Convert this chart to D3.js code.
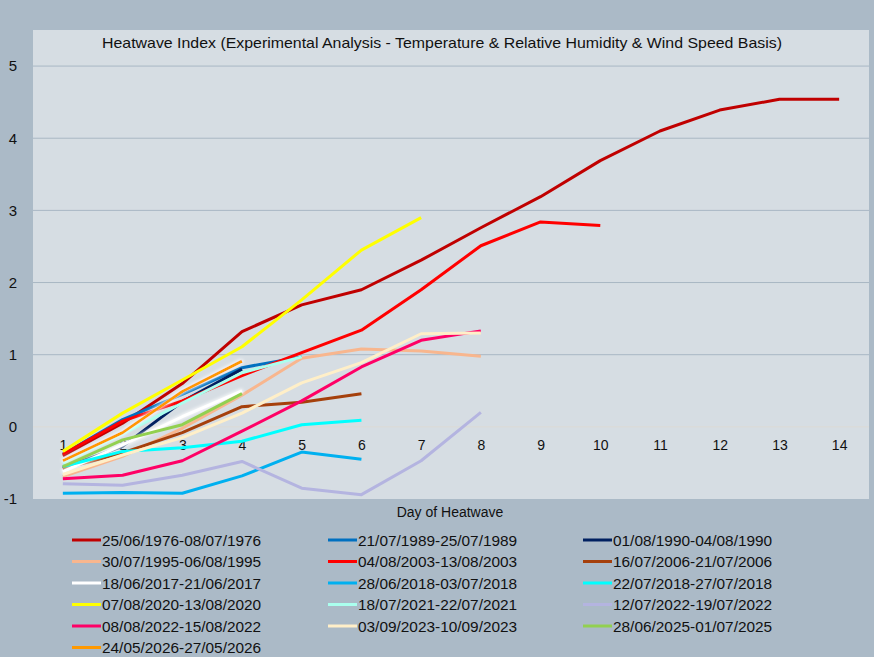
<!DOCTYPE html>
<html>
<head>
<meta charset="utf-8">
<script src="https://cdn.jsdelivr.net/npm/d3@7"></script>
<style>
  html, body { margin: 0; padding: 0; background: #abbac7; }
  svg { display: block; font-family: "Liberation Sans", Arial, sans-serif; }
</style>
</head>
<body>
<svg id="chart" width="874" height="657"></svg>
<script>
// data
const days = [1, 2, 3, 4, 5, 6, 7, 8, 9, 10, 11, 12, 13, 14];
const seriesNames = [
  '25/06/1976-08/07/1976', '21/07/1989-25/07/1989', '01/08/1990-04/08/1990',
  '30/07/1995-06/08/1995', '04/08/2003-13/08/2003', '16/07/2006-21/07/2006',
  '18/06/2017-21/06/2017', '28/06/2018-03/07/2018', '22/07/2018-27/07/2018',
  '07/08/2020-13/08/2020', '18/07/2021-22/07/2021', '12/07/2022-19/07/2022',
  '08/08/2022-15/08/2022', '03/09/2023-10/09/2023', '28/06/2025-01/07/2025',
  '24/05/2026-27/05/2026'
];
const seriesColors = [
  '#c00000', '#0070c0', '#002060',
  '#f8b68e', '#ff0000', '#a5400c',
  '#ffffff', '#00b0f0', '#00ffff',
  '#ffff00', '#aaffee', '#b4b4e0',
  '#ff0066', '#ffefc8', '#92d050',
  '#ff9900'
];
const s1976 = [-0.40, 0.05, 0.60, 1.32, 1.69, 1.90, 2.31, 2.76, 3.19, 3.69, 4.10, 4.39, 4.54, 4.54];
const s1989 = [-0.38, 0.10, 0.45, 0.82, 0.97];
const s1990 = [-0.57, -0.27, 0.35, 0.80];
const s1995 = [-0.69, -0.41, -0.02, 0.44, 0.95, 1.08, 1.05, 0.98];
const s2003 = [-0.38, 0.08, 0.36, 0.71, 1.03, 1.34, 1.90, 2.51, 2.84, 2.79];
const s2006 = [-0.58, -0.36, -0.08, 0.28, 0.34, 0.46];
const s2017 = [-0.62, -0.25, 0.14, 0.50];
const s2018a = [-0.92, -0.91, -0.92, -0.68, -0.35, -0.45];
const s2018b = [-0.55, -0.34, -0.29, -0.20, 0.03, 0.09];
const s2020 = [-0.34, 0.19, 0.65, 1.11, 1.76, 2.45, 2.90];
const s2021 = [-0.50, -0.10, 0.33, 0.75, 0.97];
const s2022a = [-0.79, -0.81, -0.67, -0.48, -0.85, -0.94, -0.47, 0.20];
const s2022b = [-0.72, -0.67, -0.47, -0.06, 0.36, 0.83, 1.20, 1.33];
const s2023 = [-0.66, -0.39, -0.15, 0.19, 0.61, 0.89, 1.29, 1.30];
const s2025 = [-0.55, -0.18, 0.03, 0.46];
const s2026 = [-0.47, -0.08, 0.49, 0.91];
const seriesValues = [s1976, s1989, s1990, s1995, s2003, s2006, s2017, s2018a,
  s2018b, s2020, s2021, s2022a, s2022b, s2023, s2025, s2026];
const yTicks = [-1, 0, 1, 2, 3, 4, 5];
const gridValues = [0, 1, 2, 3, 4, 5];
const glowSeries = ['18/06/2017-21/06/2017', '24/05/2026-27/05/2026'];

const series = seriesNames.map((name, i) => ({
  name: name,
  color: seriesColors[i],
  points: seriesValues[i].map((v, j) => ({ day: days[j], v: v }))
}));

const svg = d3.select('#chart');

// PLOT AREA
const plot = { left: 33, right: 869, top: 30, bottom: 499 };
const x = d3.scaleLinear().domain([0.5, 14.5]).range([plot.left, plot.right]);
const y = d3.scaleLinear().domain([-1, 5.5]).range([plot.bottom, plot.top]);

svg.append('rect')
  .attr('x', plot.left).attr('y', plot.top)
  .attr('width', plot.right - plot.left).attr('height', plot.bottom - plot.top)
  .attr('fill', '#d6dde3');

// soft white halo on the white and orange lines
const defs = svg.append('defs');
const glow = defs.append('filter').attr('id', 'glow')
  .attr('x', '-20%').attr('y', '-20%').attr('width', '140%').attr('height', '140%');
glow.append('feMorphology').attr('in', 'SourceAlpha').attr('operator', 'dilate').attr('radius', 1).attr('result', 'd');
glow.append('feGaussianBlur').attr('in', 'd').attr('stdDeviation', 1.5).attr('result', 'b');
glow.append('feFlood').attr('flood-color', '#ffffff').attr('flood-opacity', 0.7);
glow.append('feComposite').attr('in2', 'b').attr('operator', 'in').attr('result', 'g');
const merge = glow.append('feMerge');
merge.append('feMergeNode').attr('in', 'g');
merge.append('feMergeNode').attr('in', 'SourceGraphic');

// GRIDLINES
svg.append('g').selectAll('line').data(gridValues).join('line')
  .attr('x1', plot.left).attr('x2', plot.right)
  .attr('y1', d => y(d)).attr('y2', d => y(d))
  .attr('stroke', d => d === 0 ? '#dcdad6' : '#a9b7c4')
  .attr('stroke-width', 1);

// TITLE
svg.append('text')
  .attr('x', 442).attr('y', 48)
  .attr('text-anchor', 'middle')
  .attr('font-size', 15)
  .attr('fill', '#111')
  .attr('textLength', 680).attr('lengthAdjust', 'spacingAndGlyphs')
  .text('Heatwave Index (Experimental Analysis - Temperature & Relative Humidity & Wind Speed Basis)');

// AXES
const yAxis = d3.axisLeft(y).tickValues(yTicks).tickFormat(d => String(d)).tickSize(0).tickPadding(16);
const yAxisGroup = svg.append('g').attr('transform', `translate(${plot.left},0)`).call(yAxis);
yAxisGroup.select('.domain').remove();
yAxisGroup.selectAll('text').attr('font-size', 15).attr('fill', '#111')
  .attr('font-family', '"Liberation Sans", Arial, sans-serif');

const xAxis = d3.axisBottom(x).tickValues(days).tickFormat(d => String(d)).tickSize(0).tickPadding(13);
const xAxisGroup = svg.append('g').attr('transform', `translate(0,${y(0)})`).call(xAxis);
xAxisGroup.select('.domain').remove();
xAxisGroup.selectAll('text').attr('font-size', 14).attr('fill', '#111')
  .attr('font-family', '"Liberation Sans", Arial, sans-serif');

svg.append('text')
  .attr('x', 450).attr('y', 517)
  .attr('text-anchor', 'middle')
  .attr('font-size', 14).attr('fill', '#111')
  .text('Day of Heatwave');

// LINES
const line = d3.line().x(d => x(d.day)).y(d => y(d.v));
svg.append('g').selectAll('path').data(series).join('path')
  .attr('d', d => line(d.points))
  .attr('fill', 'none')
  .attr('stroke', d => d.color)
  .attr('stroke-width', 3)
  .attr('stroke-linejoin', 'round')
  .attr('filter', d => glowSeries.includes(d.name) ? 'url(#glow)' : null);

// LEGEND
const legendCols = [72, 328, 583];
const legend = svg.append('g').selectAll('g').data(series).join('g')
  .attr('transform', (d, i) => `translate(${legendCols[i % 3]},${540 + Math.floor(i / 3) * 21.5})`);
legend.append('line')
  .attr('x1', 0).attr('x2', 29).attr('y1', 0).attr('y2', 0)
  .attr('stroke', d => d.color).attr('stroke-width', 3);
legend.append('text')
  .attr('x', 30).attr('y', 5.5)
  .attr('font-size', 15.4).attr('fill', '#111')
  .text(d => d.name);
</script>
</body>
</html>
